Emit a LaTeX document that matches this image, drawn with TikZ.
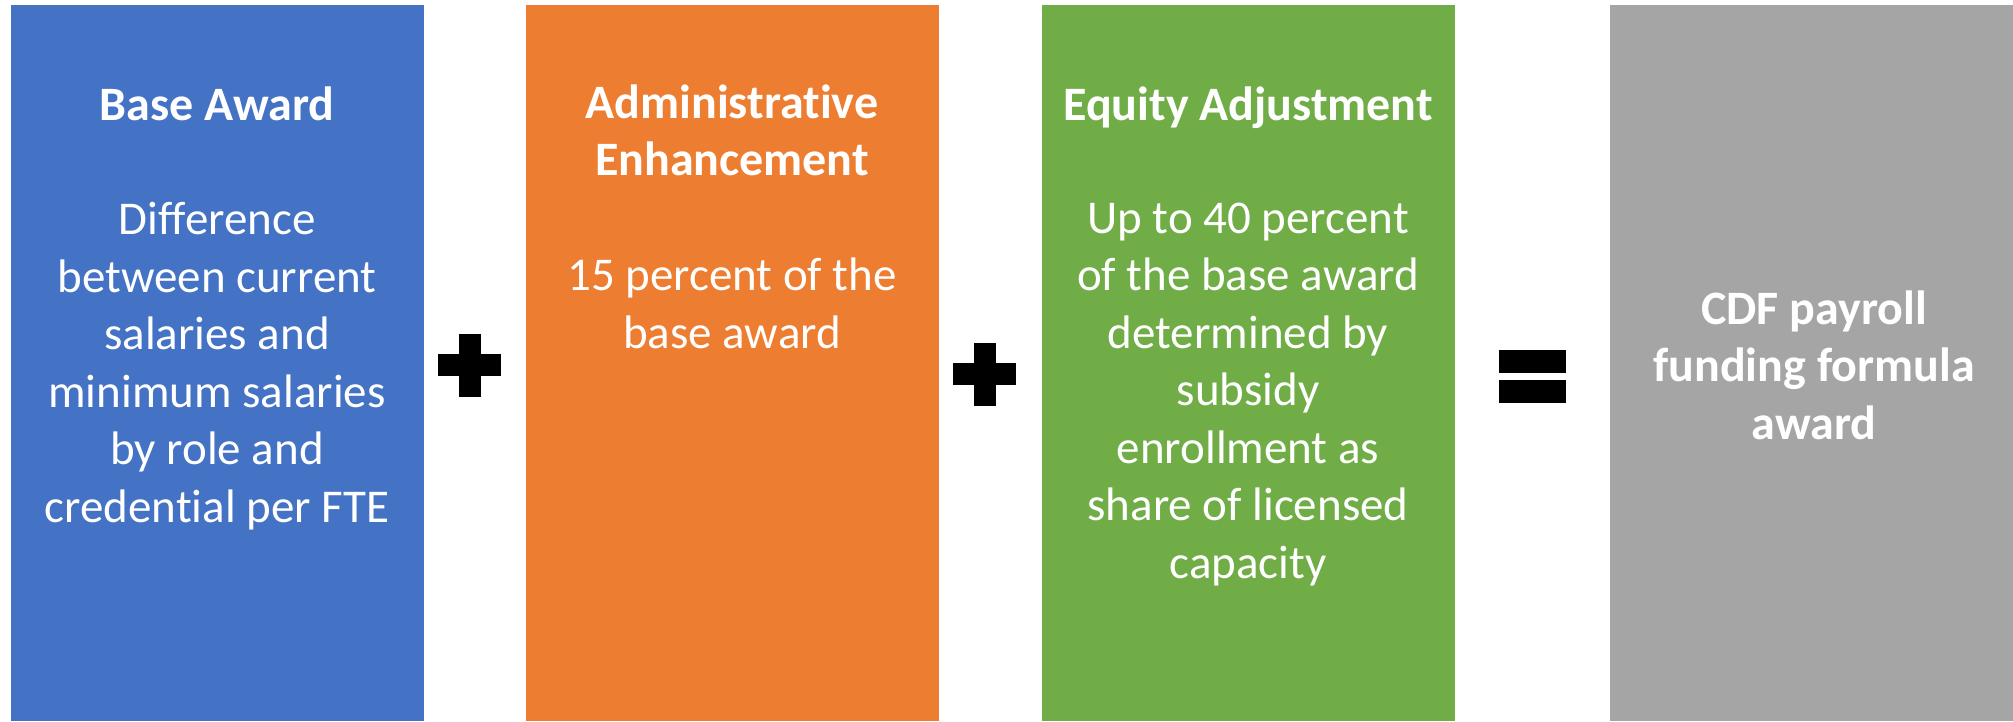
\documentclass[tikz,border=0pt]{standalone}
\usepackage{fontspec}
\setmainfont[RawFeature={-liga}]{Carlito}
\usetikzlibrary{positioning}
\definecolor{base-blue}{HTML}{4472C4}
\definecolor{admin-orange}{HTML}{ED7D31}
\definecolor{equity-green}{HTML}{70AD47}
\definecolor{total-grey}{HTML}{A5A5A5}
\tikzset{
  part/.style={
    inner sep=0pt,
    anchor=north west,
    minimum width=413pt,
    minimum height=716pt
  },
  heading/.style={
    anchor=base,
    inner sep=0pt,
    align=center,
    text=white,
    font=\fontsize{48}{57.5}\selectfont\bfseries
  },
  blurb/.style={
    anchor=base,
    inner sep=0pt,
    align=center,
    text=white,
    font=\fontsize{47}{57.5}\selectfont
  }
}

\begin{document}
\begin{tikzpicture}[x=1pt,y=-1pt]
  \useasboundingbox[fill=white] (0,0) rectangle (2013,721);
  \node[part, fill=base-blue] (base) at (10.5,5) {};
  \node[part, fill=admin-orange] (admin) at (525.5,5) {};
  \node[part, fill=equity-green] (equity) at (1041.5,5) {};
  \node[part, fill=total-grey, minimum width=404pt] (total) at (1610,5) {};
  % texts sit on the baseline of their last line
  \node[heading] (base-title) at (217,120.5) {Base Award};
  \node[blurb] (base-text) at (217,522) {Difference\\between current\\salaries and\\minimum salaries\\by role and\\credential per FTE};
  \node[heading] (admin-title) at (732,175.5) {Administrative\\Enhancement};
  \node[blurb] (admin-text) at (732,348) {15 percent of the\\base award};
  \node[heading] (equity-title) at (1248,120.5) {Equity Adjustment};
  \node[blurb] (equity-text) at (1248,578) {Up to 40 percent\\of the base award\\determined by\\subsidy\\enrollment as\\share of licensed\\capacity};
  \node[heading] (total-title) at (1814,439) {CDF payroll\\funding formula\\award};
  % plus and equals signs
  \foreach \cx/\cy in {469.5/365, 984.5/374} {
    \fill (\cx-31.5,\cy-11) rectangle (\cx+31.5,\cy+11);
    \fill (\cx-11,\cy-31.5) rectangle (\cx+11,\cy+31.5);
  }
  \fill (1498.5,349.5) rectangle (1565.5,372.5);
  \fill (1498.5,380) rectangle (1565.5,403);
\end{tikzpicture}
\end{document}
